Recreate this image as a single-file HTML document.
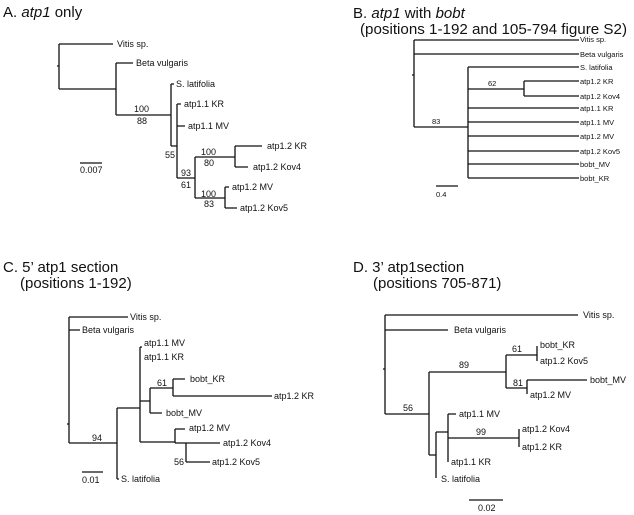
<!DOCTYPE html>
<html><head><meta charset="utf-8"><style>
html,body{margin:0;padding:0;background:#fff;}
svg{display:block;font-family:"Liberation Sans",Arial,sans-serif;}
.t{font-size:15px;fill:#111;}
.s{font-size:9px;fill:#111;}
.b{font-size:7.5px;fill:#111;}
path{fill:none;stroke:#111;stroke-width:1.3;}
</style></head><body>
<svg width="634" height="515" viewBox="0 0 634 515" xmlns="http://www.w3.org/2000/svg">
<!-- Panel A -->
<text class="t" x="3" y="17">A. <tspan font-style="italic">atp1</tspan> only</text>
<path d="M57 66H59 M59 44V89 M59 44H113 M59 89H116 M116 63V115 M116 63H133 M116 115H171 M171 84V146 M171 84H174 M171 146H177 M177 104V178 M177 104H181 M177 126H185 M177 178H195 M195 157V198 M195 157H235 M235 146V167 M235 146H262 M235 167H248 M195 198H225 M225 187V208 M225 187H229 M225 208H237 M80 163H102"/>
<text class="s" x="117" y="47">Vitis sp.</text>
<text class="s" x="136" y="66">Beta vulgaris</text>
<text class="s" x="176" y="87">S. latifolia</text>
<text class="s" x="184" y="107">atp1.1 KR</text>
<text class="s" x="188" y="129">atp1.1 MV</text>
<text class="s" x="267" y="149">atp1.2 KR</text>
<text class="s" x="253" y="170">atp1.2 Kov4</text>
<text class="s" x="232" y="190">atp1.2 MV</text>
<text class="s" x="240" y="211">atp1.2 Kov5</text>
<text class="s" x="134" y="112">100</text>
<text class="s" x="137" y="124">88</text>
<text class="s" x="165" y="158">55</text>
<text class="s" x="181" y="176">93</text>
<text class="s" x="181" y="188">61</text>
<text class="s" x="201" y="155">100</text>
<text class="s" x="204" y="166">80</text>
<text class="s" x="201" y="197">100</text>
<text class="s" x="204" y="207">83</text>
<text class="s" x="80" y="173">0.007</text>

<!-- Panel B -->
<text class="t" x="353" y="18">B. <tspan font-style="italic">atp1</tspan> with <tspan font-style="italic">bobt</tspan></text>
<text class="t" x="360" y="34" textLength="267" lengthAdjust="spacingAndGlyphs">(positions 1-192 and 105-794 figure S2)</text>
<path d="M412 75H414 M414 40V127 M414 40H579 M414 54H579 M414 127H468 M468 67V178 M468 67H579 M468 89H524 M524 81V96 M524 81H579 M524 96H579 M468 108H579 M468 122H579 M468 136H579 M468 151H579 M468 164H579 M468 178H579 M436 186H458"/>
<text class="b" x="580" y="42">Vitis sp.</text>
<text class="b" x="580" y="57">Beta vulgaris</text>
<text class="b" x="580" y="70">S. latifolia</text>
<text class="b" x="580" y="84">atp1.2 KR</text>
<text class="b" x="580" y="99">atp1.2 Kov4</text>
<text class="b" x="580" y="111">atp1.1 KR</text>
<text class="b" x="580" y="125">atp1.1 MV</text>
<text class="b" x="580" y="139">atp1.2 MV</text>
<text class="b" x="580" y="154">atp1.2 Kov5</text>
<text class="b" x="580" y="167">bobt_MV</text>
<text class="b" x="580" y="181">bobt_KR</text>
<text class="b" x="488" y="86">62</text>
<text class="b" x="432" y="124">83</text>
<text class="b" x="436" y="197">0.4</text>

<!-- Panel C -->
<text class="t" x="3" y="272">C. 5’ atp1 section</text>
<text class="t" x="20" y="288">(positions 1-192)</text>
<path d="M67 424H69 M69 317V443 M69 317H128 M69 330H80 M69 443H117 M117 408V479 M117 479H119 M117 408H140 M140 347V442 M140 347H142 M140 401H150 M150 388V413 M150 388H173 M173 379V396 M173 379H185 M173 396H272 M150 413H162 M140 442H175 M175 429V443 M175 429H185 M175 443H186 M186 443V462 M186 443H220 M186 462H210 M82 472H103"/>
<text class="s" x="130" y="320">Vitis sp.</text>
<text class="s" x="82" y="333">Beta vulgaris</text>
<text class="s" x="144" y="346">atp1.1 MV</text>
<text class="s" x="144" y="360">atp1.1 KR</text>
<text class="s" x="190" y="382">bobt_KR</text>
<text class="s" x="274" y="399">atp1.2 KR</text>
<text class="s" x="166" y="416">bobt_MV</text>
<text class="s" x="189" y="431">atp1.2 MV</text>
<text class="s" x="223" y="446">atp1.2 Kov4</text>
<text class="s" x="212" y="465">atp1.2 Kov5</text>
<text class="s" x="121" y="482">S. latifolia</text>
<text class="s" x="157" y="386">61</text>
<text class="s" x="92" y="441">94</text>
<text class="s" x="174" y="465">56</text>
<text class="s" x="82" y="483">0.01</text>

<!-- Panel D -->
<text class="t" x="353" y="272">D. 3’ atp1section</text>
<text class="t" x="373" y="288">(positions 705-871)</text>
<path d="M383 369H385 M385 315V414 M385 315H578 M385 330H448 M385 414H429 M429 372V455 M429 372H506 M506 355V388 M506 355H537 M537 346V361 M506 388H527 M527 380V394 M527 380H587 M429 455H436 M436 432V478 M436 432H448 M448 414V462 M448 414H456 M448 438H519 M519 429V447 M469 500H503"/>
<text class="s" x="583" y="318">Vitis sp.</text>
<text class="s" x="454" y="333">Beta vulgaris</text>
<text class="s" x="540" y="348">bobt_KR</text>
<text class="s" x="540" y="364">atp1.2 Kov5</text>
<text class="s" x="590" y="383">bobt_MV</text>
<text class="s" x="530" y="398">atp1.2 MV</text>
<text class="s" x="459" y="417">atp1.1 MV</text>
<text class="s" x="522" y="432">atp1.2 Kov4</text>
<text class="s" x="522" y="450">atp1.2 KR</text>
<text class="s" x="451" y="465">atp1.1 KR</text>
<text class="s" x="441" y="482">S. latifolia</text>
<text class="s" x="512" y="352">61</text>
<text class="s" x="459" y="368">89</text>
<text class="s" x="513" y="386">81</text>
<text class="s" x="403" y="411">56</text>
<text class="s" x="476" y="435">99</text>
<text class="s" x="478" y="511">0.02</text>
</svg>
</body></html>
